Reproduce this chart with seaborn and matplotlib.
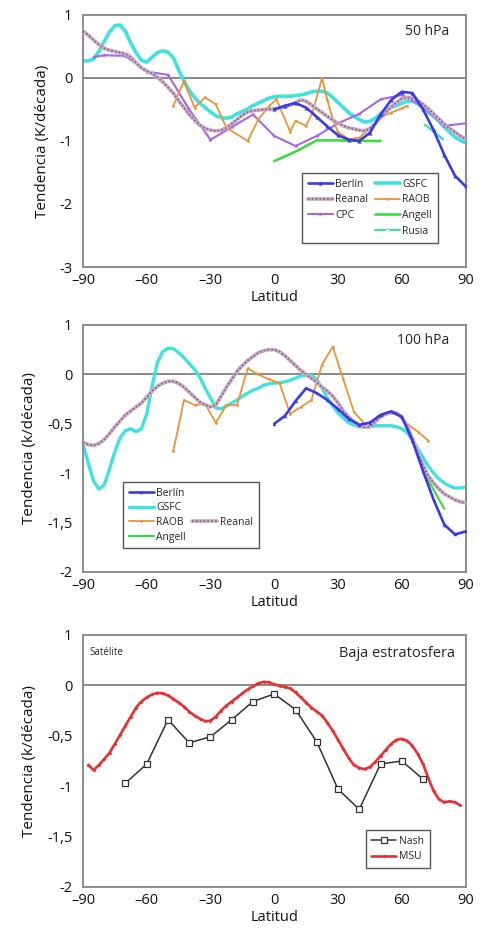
import numpy as np
import matplotlib
matplotlib.use("Agg")
import matplotlib.pyplot as plt
from matplotlib.lines import Line2D
from matplotlib.legend_handler import HandlerTuple
from matplotlib.ticker import FixedLocator, FixedFormatter
import seaborn as sns

sns.set_style("white")
plt.rcParams["font.family"] = ["Open Sans", "DejaVu Sans"]

# ---------------- data ----------------
LAT_FINE = np.arange(-90, 90.1, 2.5)

# 50 hPa
GSFC_50 = [0.27, 0.27, 0.30, 0.42, 0.58, 0.73, 0.83, 0.84, 0.74, 0.55,
           0.40, 0.28, 0.25, 0.33, 0.40, 0.43, 0.41, 0.32, 0.13, -0.05,
           -0.20, -0.31, -0.40, -0.47, -0.54, -0.60, -0.63, -0.64, -0.62, -0.57,
           -0.53, -0.49, -0.44, -0.40, -0.36, -0.32, -0.30, -0.29, -0.29, -0.29,
           -0.28, -0.27, -0.25, -0.22, -0.21, -0.21, -0.24, -0.31, -0.39, -0.47,
           -0.55, -0.61, -0.66, -0.70, -0.69, -0.64, -0.57, -0.51, -0.47, -0.44,
           -0.40, -0.37, -0.37, -0.41, -0.47, -0.55, -0.61, -0.69, -0.78, -0.86,
           -0.94, -0.99, -1.03]
REANAL_50 = [0.74, 0.68, 0.60, 0.53, 0.47, 0.44, 0.42, 0.40, 0.38, 0.33,
             0.24, 0.16, 0.11, 0.07, 0.01, -0.06, -0.15, -0.24, -0.36, -0.47,
             -0.58, -0.67, -0.75, -0.80, -0.83, -0.84, -0.83, -0.79, -0.73, -0.66,
             -0.59, -0.54, -0.52, -0.51, -0.50, -0.50, -0.49, -0.48, -0.46, -0.43,
             -0.39, -0.35, -0.37, -0.43, -0.49, -0.55, -0.61, -0.67, -0.72, -0.76,
             -0.79, -0.81, -0.83, -0.84, -0.80, -0.72, -0.63, -0.55, -0.46, -0.39,
             -0.33, -0.31, -0.32, -0.36, -0.42, -0.49, -0.57, -0.65, -0.73, -0.80,
             -0.86, -0.92, -0.97]
CPC_50_LAT = [-85, -80, -70, -60, -50, -40, -30, -20, -10, 0, 10, 20, 30, 40, 50, 60, 70, 80, 90]
CPC_50 = [0.33, 0.36, 0.35, 0.10, 0.05, -0.50, -0.98, -0.78, -0.58, -0.92,
          -1.08, -0.92, -0.72, -0.57, -0.34, -0.27, -0.45, -0.76, -0.72]
RAOB_50_LAT = [-47.5, -42.5, -37.5, -32.5, -27.5, -22.5, -12.5, -7.5, -2.5, 1,
               7.5, 10, 15, 18, 22.5, 25, 27.5, 30, 35, 40, 45, 50, 55, 60, 62.5]
RAOB_50 = [-0.44, -0.05, -0.47, -0.31, -0.42, -0.79, -1.00, -0.66, -0.45, -0.34,
           -0.85, -0.68, -0.76, -0.55, 0.00, -0.35, -0.65, -0.86, -0.97, -0.95,
           -0.80, -0.62, -0.55, -0.48, -0.44]
BERLIN_50_LAT = [0, 5, 10, 15, 20, 25, 30, 35, 40, 45, 50, 55, 60, 65, 70, 75, 80, 85, 90]
BERLIN_50 = [-0.50, -0.44, -0.40, -0.47, -0.62, -0.77, -0.91, -0.98, -1.00, -0.87,
             -0.58, -0.35, -0.22, -0.24, -0.50, -0.83, -1.22, -1.55, -1.72]
ANGELL_50_LAT = [0, 10, 20, 30, 40, 50]
ANGELL_50 = [-1.32, -1.17, -0.99, -0.99, -1.00, -1.00]
RUSIA_50_LAT = [70, 75, 80]
RUSIA_50 = [-0.72, -0.85, -0.99]

# 100 hPa
GSFC_100 = [-0.70, -0.90, -1.08, -1.16, -1.12, -0.96, -0.78, -0.64, -0.57, -0.55,
            -0.58, -0.55, -0.40, -0.12, 0.12, 0.23, 0.265, 0.26, 0.22, 0.17,
            0.11, 0.05, -0.03, -0.14, -0.24, -0.34, -0.35, -0.32, -0.29, -0.26,
            -0.22, -0.19, -0.16, -0.14, -0.11, -0.095, -0.09, -0.085, -0.075, -0.06,
            -0.04, -0.015, -0.01, -0.01, -0.05, -0.14, -0.24, -0.32, -0.39, -0.44,
            -0.49, -0.51, -0.53, -0.535, -0.53, -0.52, -0.52, -0.52, -0.52, -0.53,
            -0.55, -0.59, -0.66, -0.75, -0.84, -0.93, -1.00, -1.06, -1.10, -1.13,
            -1.15, -1.15, -1.14]
REANAL_100 = [-0.69, -0.71, -0.72, -0.70, -0.66, -0.60, -0.53, -0.47, -0.41, -0.37,
              -0.33, -0.29, -0.23, -0.17, -0.12, -0.09, -0.07, -0.07, -0.09, -0.13,
              -0.18, -0.23, -0.28, -0.31, -0.33, -0.31, -0.22, -0.13, -0.05, 0.03,
              0.09, 0.14, 0.18, 0.22, 0.24, 0.25, 0.25, 0.23, 0.19, 0.14,
              0.09, 0.04, 0.00, -0.04, -0.08, -0.13, -0.17, -0.22, -0.29, -0.37,
              -0.43, -0.48, -0.52, -0.535, -0.53, -0.48, -0.43, -0.40, -0.38, -0.39,
              -0.43, -0.52, -0.65, -0.79, -0.92, -1.03, -1.10, -1.16, -1.21, -1.24,
              -1.27, -1.29, -1.30]
RAOB_100_LAT = [-47.5, -42.5, -37.5, -32.5, -27.5, -22.5, -17.5, -12.5, -7.5, -2.5,
                2.5, 7.5, 12.5, 17.5, 22.5, 27.5, 32.5, 37.5, 42.5, 47.5,
                52.5, 57.5, 62.5, 67.5, 72.5]
RAOB_100 = [-0.78, -0.26, -0.31, -0.30, -0.49, -0.31, -0.31, 0.06, 0.00, -0.05,
            -0.09, -0.40, -0.33, -0.26, 0.10, 0.28, -0.05, -0.38, -0.50, -0.46,
            -0.40, -0.40, -0.50, -0.58, -0.67]
BERLIN_100_LAT = [0, 5, 10, 15, 20, 25, 30, 35, 40, 45, 50, 55, 60, 65, 70, 75, 80, 85, 90]
BERLIN_100 = [-0.50, -0.42, -0.27, -0.14, -0.19, -0.26, -0.35, -0.45, -0.51, -0.49,
              -0.41, -0.375, -0.43, -0.67, -0.98, -1.27, -1.52, -1.62, -1.59]
ANGELL_100_LAT = [70, 75, 80]
ANGELL_100 = [-0.97, -1.17, -1.36]

# lower stratosphere (satellite)
NASH_LAT = [-70, -60, -50, -40, -30, -20, -10, 0, 10, 20, 30, 40, 50, 60, 70]
NASH = [-0.97, -0.78, -0.34, -0.57, -0.51, -0.34, -0.16, -0.085, -0.24, -0.56,
        -1.03, -1.23, -0.78, -0.75, -0.93]
MSU_LAT = np.arange(-87.5, 87.6, 2.5)
MSU = [-0.79, -0.84, -0.79, -0.73, -0.67, -0.58, -0.49, -0.40, -0.31, -0.22,
       -0.16, -0.12, -0.09, -0.075, -0.08, -0.10, -0.135, -0.17, -0.21, -0.26,
       -0.30, -0.33, -0.355, -0.35, -0.31, -0.25, -0.20, -0.16, -0.12, -0.08,
       -0.04, -0.01, 0.02, 0.035, 0.03, 0.01, -0.005, -0.015, -0.03, -0.07,
       -0.12, -0.17, -0.22, -0.26, -0.30, -0.37, -0.45, -0.54, -0.63, -0.72,
       -0.79, -0.82, -0.83, -0.81, -0.76, -0.70, -0.64, -0.58, -0.54, -0.53,
       -0.55, -0.60, -0.68, -0.78, -0.92, -1.05, -1.13, -1.16, -1.15, -1.16,
       -1.19]

X_TICKS = [-90, -60, -30, 0, 30, 60, 90]
X_LABELS = ["\u201390", "\u201360", "\u201330", "0", "30", "60", "90"]

# ---------------- styling ----------------
C = {
    "berlin": "#3a3ae6", "gsfc": "#3fe2e2", "reanal": "#c9adc4", "reanal_dot": "#8a6085",
    "cpc": "#a866e6", "raob": "#e99436", "angell": "#3ddc3d", "rusia": "#3fe3a0",
    "nash": "#333333", "msu": "#e8312f",
}
AX_GRAY = "#8c8c8c"


def line(ax, x, y, color, lw, **kw):
    sns.lineplot(x=x, y=y, ax=ax, color=color, linewidth=lw, estimator=None,
                 sort=False, legend=False, **kw)
    return ax.lines[-1]


def reanal(ax, x, y):
    base = line(ax, x, y, C["reanal"], 2.7, zorder=3)
    dots = line(ax, x, y, C["reanal_dot"], 1.2, zorder=3.1)
    dots.set_linestyle((0, (1, 1.3)))
    return (base, dots)


def style_axes(ax, yticks, ylabels, ylim, ylabel):
    ax.set_xlim(-90, 90)
    ax.set_ylim(*ylim)
    ax.axhline(0, color="#808080", lw=1.3, zorder=1)
    ax.xaxis.set_major_locator(FixedLocator(X_TICKS))
    ax.xaxis.set_major_formatter(FixedFormatter(X_LABELS))
    ax.yaxis.set_major_locator(FixedLocator(yticks))
    ax.yaxis.set_major_formatter(FixedFormatter(ylabels))
    for s in ax.spines.values():
        s.set_color(AX_GRAY)
        s.set_linewidth(1.4)
    ax.tick_params(axis="both", direction="inout", length=3, width=1,
                   color="#777777", labelsize=10.5, labelcolor="#111111")
    ax.tick_params(axis="x", pad=3)
    ax.tick_params(axis="y", pad=6)
    ax.set_xlabel("Latitud", fontsize=10.5, labelpad=1.5, color="#111111")
    ax.set_ylabel(ylabel, fontsize=11, labelpad=7, color="#111111")


blank = Line2D([], [], linestyle="none")
leg_kw = dict(fontsize=7.5, frameon=True, fancybox=False, edgecolor="#555555",
              framealpha=1, handlelength=2.4, handletextpad=0.25, labelspacing=0.45,
              borderpad=0.55, columnspacing=0.6, borderaxespad=0)

fig = plt.figure(figsize=(4.88, 9.32), dpi=100)
fig.patch.set_facecolor("white")

# ---- 50 hPa ----
ax1 = fig.add_axes([0.170, 0.7135, 0.784, 0.2705])
h_gsfc = line(ax1, LAT_FINE, GSFC_50, C["gsfc"], 2.6, zorder=2.5)
h_rea = reanal(ax1, LAT_FINE, REANAL_50)
h_cpc = line(ax1, CPC_50_LAT, CPC_50, C["cpc"], 1.5, marker="*", markersize=3.5,
             markeredgewidth=0, zorder=2.6)
h_raob = line(ax1, RAOB_50_LAT, RAOB_50, C["raob"], 1.3, marker="o", markersize=2,
              markeredgewidth=0, zorder=2.7)
h_ber = line(ax1, BERLIN_50_LAT, BERLIN_50, C["berlin"], 1.9, marker="^", markersize=3,
             markeredgewidth=0, zorder=4)
h_ang = line(ax1, ANGELL_50_LAT, ANGELL_50, C["angell"], 1.9, zorder=2.8)
h_rus = line(ax1, RUSIA_50_LAT, RUSIA_50, C["rusia"], 1.6, marker="+", markersize=3,
             zorder=2.8)
style_axes(ax1, [1, 0, -1, -2, -3], ["1", "0", "-1", "-2", "-3"], (-3, 1),
           "Tendencia (K/d\u00e9cada)")
ax1.text(0.958, 0.935, "50 hPa", transform=ax1.transAxes, ha="right", va="center",
         fontsize=10)
ax1.legend([h_ber, h_rea, h_cpc, blank, h_gsfc, h_raob, h_ang, h_rus],
           ["Berl\u00edn", "Reanal", "CPC", "", "GSFC", "RAOB", "Angell", "Rusia"],
           ncol=2, loc="upper right", bbox_to_anchor=(0.927, 0.373),
           handler_map={tuple: HandlerTuple(ndivide=1, pad=0)}, **leg_kw)

# ---- 100 hPa ----
ax2 = fig.add_axes([0.170, 0.3863, 0.784, 0.265])
h2_gsfc = line(ax2, LAT_FINE, GSFC_100, C["gsfc"], 2.4, zorder=2.5)
h2_rea = reanal(ax2, LAT_FINE, REANAL_100)
h2_raob = line(ax2, RAOB_100_LAT, RAOB_100, C["raob"], 1.3, marker="o", markersize=2,
               markeredgewidth=0, zorder=2.7)
h2_ang = line(ax2, ANGELL_100_LAT, ANGELL_100, C["angell"], 1.6, zorder=2.8)
h2_ber = line(ax2, BERLIN_100_LAT, BERLIN_100, C["berlin"], 1.9, marker="^", markersize=2.5,
              markeredgewidth=0, zorder=4)
style_axes(ax2, [0.5, 0, -0.5, -1, -1.5, -2], ["1", "0", "-0,5", "-1", "-1,5", "-2"],
           (-2, 0.5), "Tendencia (k/d\u00e9cada)")
ax2.text(0.958, 0.936, "100 hPa", transform=ax2.transAxes, ha="right", va="center",
         fontsize=10)
leg2_kw = dict(leg_kw, labelspacing=0.35)
ax2.legend([h2_ber, h2_gsfc, h2_raob, h2_ang, blank, blank, h2_rea, blank],
           ["Berl\u00edn", "GSFC", "RAOB", "Angell", "", "", "Reanal", ""],
           ncol=2, loc="upper left", bbox_to_anchor=(0.105, 0.364),
           handler_map={tuple: HandlerTuple(ndivide=1, pad=0)}, **leg2_kw)

# ---- lower stratosphere ----
ax3 = fig.add_axes([0.170, 0.0483, 0.784, 0.2704])
h3_msu = line(ax3, MSU_LAT, MSU, C["msu"], 1.9, marker="D", markersize=2,
              markeredgewidth=0, zorder=3)
h3_nash = line(ax3, NASH_LAT, NASH, C["nash"], 1.1, marker="s", markersize=3.8,
               markerfacecolor="white", markeredgecolor="#333333", markeredgewidth=0.9,
               zorder=4)
style_axes(ax3, [0.5, 0, -0.5, -1, -1.5, -2], ["1", "0", "-0,5", "-1", "-1,5", "-2"],
           (-2, 0.5), "Tendencia (k/d\u00e9cada)")
ax3.text(0.016, 0.93, "Sat\u00e9lite", transform=ax3.transAxes, ha="left", va="center",
         fontsize=7)
ax3.text(0.972, 0.925, "Baja estratosfera", transform=ax3.transAxes, ha="right",
         va="center", fontsize=10.5)
ax3.legend([h3_nash, h3_msu], ["Nash", "MSU"], loc="lower right",
           bbox_to_anchor=(0.906, 0.075), **leg_kw)

fig.savefig("out.png", dpi=100, facecolor="white")
